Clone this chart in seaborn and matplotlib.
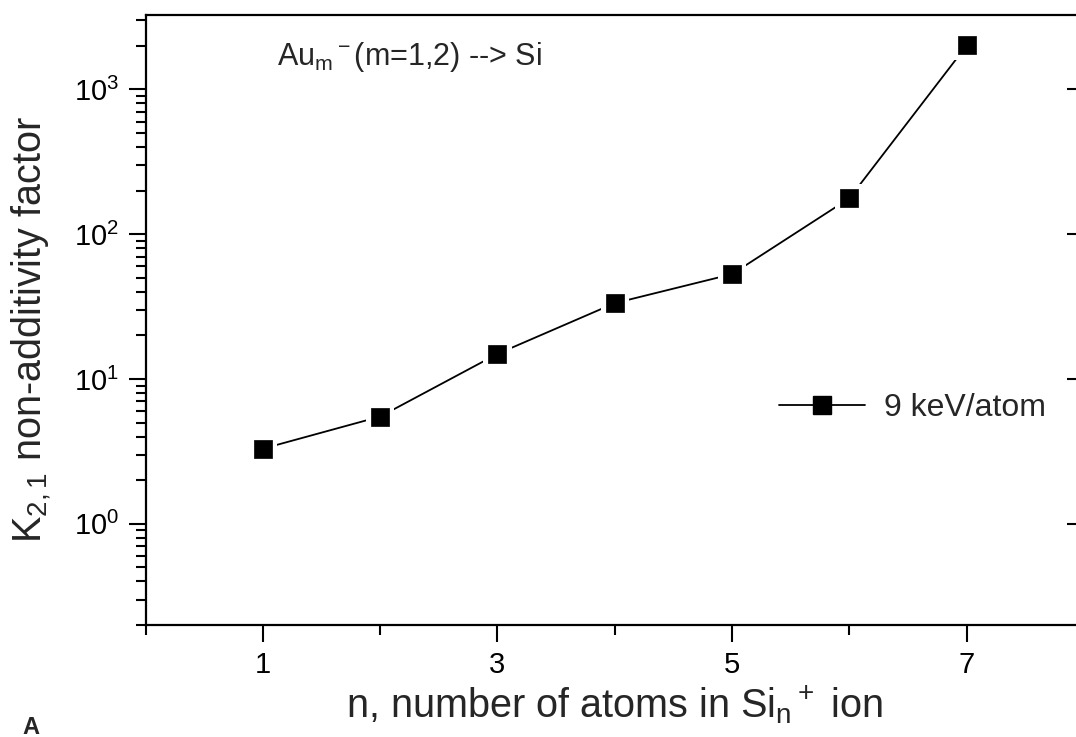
import matplotlib
matplotlib.use("Agg")
import matplotlib.pyplot as plt
import seaborn as sns
import pandas as pd
import numpy as np
from matplotlib.ticker import LogLocator, FixedLocator, NullFormatter, NullLocator
from matplotlib.lines import Line2D

# ---- data ----
n_atoms = [1, 2, 3, 4, 5, 6, 7]
k_factor = [3.3, 5.5, 14.9, 33.4, 53, 177, 2010]
series_label = "9 keV/atom"
x_major = [1, 3, 5, 7]
x_minor = [0, 2, 4, 6, 8]

sns.set_theme(style="ticks")
plt.rcParams['font.family'] = ['Liberation Sans', 'DejaVu Sans']
plt.rcParams['mathtext.fontset'] = 'custom'
plt.rcParams['mathtext.rm'] = 'Liberation Sans'
plt.rcParams['mathtext.it'] = 'Liberation Sans'
plt.rcParams['mathtext.default'] = 'regular'

df = pd.DataFrame({"n": n_atoms, "K": k_factor})

fig = plt.figure(figsize=(10.76, 7.37), dpi=100)
left_px, right_px, top_px, bot_px = 145.5, 1084, 14.7, 625
ax = fig.add_axes([left_px/1076, 1-bot_px/737, (right_px-left_px)/1076, (bot_px-top_px)/737])

sns.lineplot(data=df, x="n", y="K", ax=ax, color="black", lw=1.3, zorder=2)
sns.scatterplot(data=df, x="n", y="K", ax=ax, marker="s", s=420, color="white",
                edgecolor="none", zorder=3)
sns.scatterplot(data=df, x="n", y="K", ax=ax, marker="s", s=165, color="black",
                edgecolor="black", linewidth=0.5, zorder=4)

ax.set_yscale("log")
ax.set_xlim(0, 8)
ax.set_ylim(0.2, 3280)

ax.xaxis.set_major_locator(FixedLocator(x_major))
ax.xaxis.set_minor_locator(FixedLocator(x_minor))
ax.yaxis.set_major_locator(LogLocator(base=10, numticks=10))
ax.yaxis.set_minor_locator(LogLocator(base=10, subs=np.arange(2, 10), numticks=20))
ax.yaxis.set_minor_formatter(NullFormatter())

for s in ax.spines.values():
    s.set_linewidth(1.6)
    s.set_color("black")

ax.tick_params(axis="both", which="major", labelsize=21, width=1.5, length=12,
               color="black", labelcolor="black")
ax.tick_params(axis="both", which="minor", width=1.5, length=7, color="black")
ax.tick_params(axis="x", which="major", pad=7)
ax.tick_params(axis="y", which="major", pad=7)

# right-hand inward major ticks
ax2 = ax.twinx()
ax2.set_yscale("log")
ax2.set_ylim(ax.get_ylim())
ax2.yaxis.set_major_locator(LogLocator(base=10, numticks=10))
ax2.yaxis.set_minor_locator(NullLocator())
ax2.tick_params(axis="y", which="major", direction="in", length=12, width=1.5,
                labelright=False, color="black")
for s in ax2.spines.values():
    s.set_visible(False)
ax2.grid(False)

ax.set_xlabel(r"n, number of atoms in Si$_n$$^+$ ion", fontsize=28.5, labelpad=3)
ax.set_ylabel(r"K$_{2,1}$ non-additivity factor", fontsize=28.5, labelpad=14)
ax.yaxis.label.set_y(0.484)

ax.text((277-left_px)/(right_px-left_px), (bot_px-65)/(bot_px-top_px),
        r"Au$_m$$^-$(m=1,2) --> Si", transform=ax.transAxes,
        fontsize=22, ha="left", va="baseline")

handle = Line2D([], [], color="black", lw=1.3, marker="s", markersize=13,
                markerfacecolor="black", markeredgecolor="black")
ax.legend([handle], [series_label], loc="center left",
          bbox_to_anchor=(0.644, 0.355), frameon=False, fontsize=23,
          handlelength=2.7, handletextpad=0.6)

fig.text(22/1076, 1-734/737, "A", fontsize=17, fontweight="bold", ha="left", va="baseline")

ax.set_facecolor("white")
fig.savefig("out.png", dpi=100, facecolor="white")
